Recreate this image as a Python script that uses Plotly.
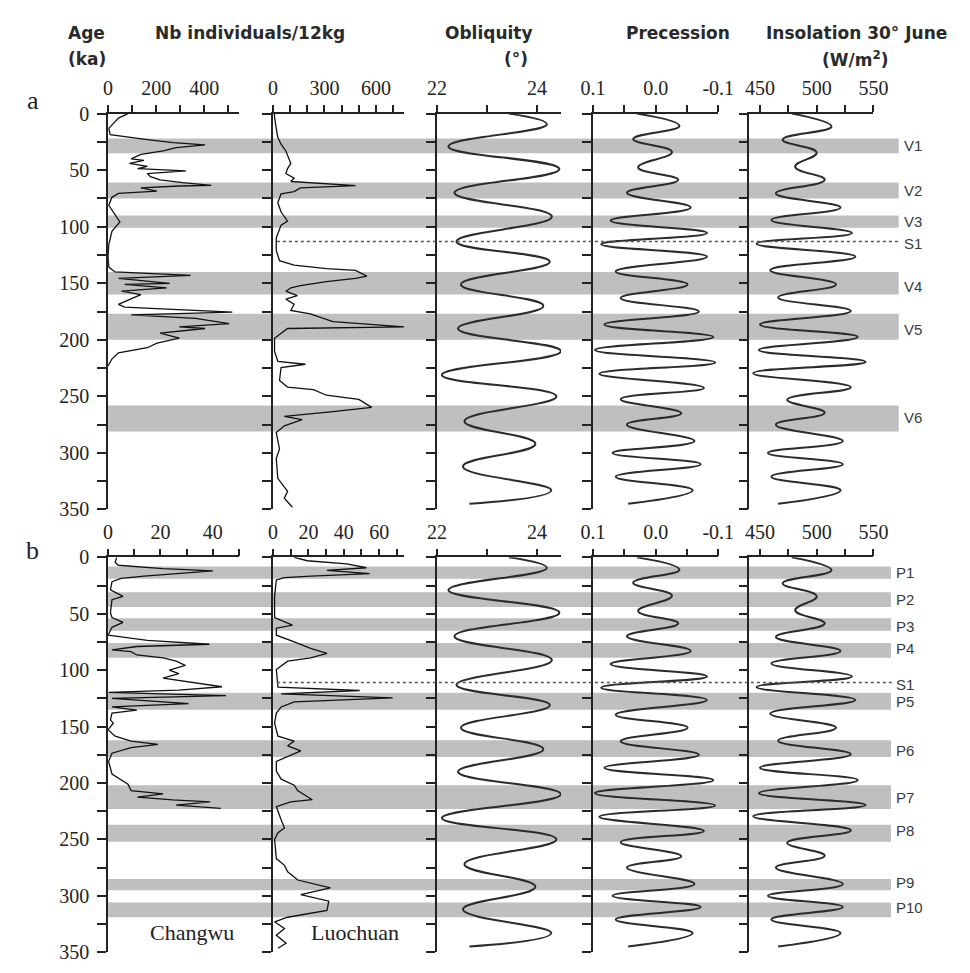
import plotly.graph_objects as go

# ---------------- data ----------------
age_ticks = [0, 25, 50, 75, 100, 125, 150, 175, 200, 225, 250, 275, 300, 325, 350]
age_labels = ["0", "", "50", "", "100", "", "150", "", "200", "", "250", "", "300", "", "350"]

# Panel a: Changwu (Nb individuals/12kg)
cw_a_age = [0, 4, 13, 18.6, 23, 25.7, 27.7, 30, 33, 36, 40, 41.4, 44, 46.6, 48.6, 50.6, 53, 55.7, 58.6, 61,
            63.4, 64, 65.7, 68.6, 70.6, 74, 81, 87, 95.7, 104, 115.7, 127, 135.7, 140, 143, 145.7, 150, 151,
            154, 157, 160, 168.6, 171, 175.5, 178, 181, 185.6, 188.5, 190, 194, 198.6, 203, 207, 211.5, 217, 223]
cw_a_val = [83, 43, 3, 9, 163, 270, 403, 283, 229, 136, 96, 149, 89, 163, 123, 323, 163, 176, 216, 309,
            429, 296, 136, 203, 43, 16, 3, 23, 49, 16, 3, 0, 3, 29, 343, 43, 256, 69,
            243, 56, 136, 43, 69, 516, 96, 363, 503, 296, 403, 216, 296, 203, 163, 43, 16, 0]

# Panel a: Luochuan
lc_a_age = [0, 3, 13, 21, 27, 33, 44, 48.6, 53, 57, 60, 63.7, 65.7, 69, 71, 78.6, 87, 95, 98.6, 110, 121,
            130, 134, 137, 138.6, 143.7, 145.7, 148.6, 152, 154, 157, 161, 164, 168.6, 174, 177, 184, 188.5,
            190, 194, 198.6, 210, 219, 221.6, 224.5, 236, 241.8, 244, 249, 252.7, 259.7, 263.4, 267.7, 270.6,
            276, 282, 296.5, 305, 322.5, 334, 340, 348]
lc_a_val = [9, 9, 19, 28, 47, 75, 104, 85, 75, 123, 104, 481, 160, 123, 47, 28, 47, 85, 47, 19, 19,
            38, 123, 311, 481, 547, 481, 311, 160, 104, 75, 142, 75, 123, 104, 217, 349, 764,
            85, 47, 9, 9, 28, 189, 47, 38, 85, 236, 311, 500, 575, 349, 66, 170,
            66, 19, 38, 19, 28, 85, 66, 113]

# Panel b: Changwu
cw_b_age = [0, 4.3, 7, 10, 12, 14.4, 16.7, 18.7, 21.6, 28.8, 34.6, 37.5, 49, 53.3, 57.6, 62, 69, 73.5, 77, 79,
            82, 83.6, 86.5, 89, 92, 95.7, 100, 103, 107, 114.7, 117.6, 119.6, 122.5, 125, 129.7, 132.6, 135.4,
            138, 144, 147, 152.7, 158.5, 162.8, 165.7, 168.6, 173.6, 181, 192, 201, 206.7, 209.6, 212.5, 215,
            216.8, 219.7, 222.5]
cw_b_val = [3.3, 2.7, 3.9, 21, 40, 26, 13.7, 5, 1.5, 0.9, 5.7, 1.5, 0.9, 1.5, 5.7, 1.5, 0, 15, 38.7, 11,
            1.5, 8.8, 11, 21, 26, 29.5, 23.4, 27, 21, 43.5, 27, 0.2, 45, 1.5, 30.7, 1.5, 11,
            1.5, 0.9, 2, 0, 2.7, 8.8, 19, 8.8, 1.5, 0.2, 1.5, 7.6, 8.8, 21, 11.2, 24.6,
            39, 26, 43]

# Panel b: Luochuan
lc_b_age = [0, 3, 5.8, 9.2, 11.5, 14.4, 16.7, 17.9, 20, 34.6, 53.3, 56, 60, 62.8, 69, 75, 80.7, 85, 89, 92,
            95, 99.4, 115, 118, 121, 124.5, 128, 132.6, 138, 147, 158.5, 162.8, 167, 171.5, 180.8, 189.4,
            196.6, 202, 206.7, 214.8, 216.8, 221, 232.6, 240, 244, 250, 267, 273, 278.7, 286, 293, 299,
            304.7, 313, 319, 323, 329, 335, 342, 346.5]
lc_b_val = [12, 19.4, 41.7, 52.8, 30.5, 54.6, 21.3, 6.5, 1.9, 0.9, 0.9, 4.6, 11, 1.9, 1.9, 12, 21.3, 30.5, 21.3, 8.3,
            5.6, 1.9, 2.8, 49, 4.6, 67.6, 12, 4.6, 1.9, 0.9, 2.8, 12, 8.3, 15.7, 1.9, 1.9,
            4.6, 12, 13.9, 22.2, 10, 1.9, 4.6, 6.5, 2.8, 0.9, 1.9, 6.5, 8.3, 14, 32.4, 15.7,
            31.5, 30.5, 8.3, 0.9, 6.5, 1.9, 7.4, 2.8]

# Obliquity (deg) turning points
obl_age = [0, 9.5, 29, 49, 70, 91, 113, 131, 151, 170, 190, 210, 231, 250, 272, 292, 312, 333, 345]
obl_val = [23.44, 24.2, 22.23, 24.45, 22.35, 24.3, 22.39, 24.26, 22.48, 24.13, 22.42, 24.48, 22.1, 24.39,
           22.55, 23.97, 22.52, 24.29, 22.65]

# Precession index turning points
pre_age = [0, 11, 22.5, 34, 47.5, 58.5, 70, 83, 94.5, 105.5, 115.5, 126.5, 139.5, 151, 163, 175, 186.5, 197.5,
           209, 220, 230, 242.5, 252.5, 265, 275, 289.5, 300, 310, 321, 333, 345]
pre_val = [0.03, -0.038, 0.036, -0.026, 0.028, -0.036, 0.046, -0.056, 0.072, -0.082, 0.087, -0.082, 0.064,
           -0.051, 0.056, -0.069, 0.082, -0.092, 0.097, -0.095, 0.090, -0.077, 0.056, -0.041, 0.046, -0.062,
           0.069, -0.072, 0.064, -0.059, 0.044]

# Insolation 30N June (W/m2) turning points
ins_age = [0, 11.5, 23, 34.5, 47, 58.5, 70.5, 83, 94, 105.5, 115, 126.5, 138.5, 151, 162.5, 174.5, 186.5,
           197.5, 209, 219.5, 229.5, 242, 253, 264.5, 275, 289.5, 300, 310, 321, 333, 345]
ins_val = [478, 513, 470, 500, 481, 507, 464, 521, 460, 531, 447, 534, 459, 517, 466, 530, 450, 536, 449, 543,
           444, 530, 474, 507, 464, 523, 457, 523, 460, 521, 466]

# Shaded intervals (ka)
bands_a = [(22, 35), (61, 75), (90, 101), (140, 160), (177, 200), (258, 281)]
labels_a = ["V1", "V2", "V3", "V4", "V5", "V6"]
label_pos_a = [28, 68, 95, 153, 191, 269]
bands_b = [(8, 19), (31, 44), (54, 65), (76, 89), (120, 135), (162, 177), (202, 223), (237, 252),
           (285, 295), (306, 319)]
labels_b = ["P1", "P2", "P3", "P4", "P5", "P6", "P7", "P8", "P9", "P10"]
label_pos_b = [13, 37, 61, 81, 127.5, 171, 213, 242, 288, 310]
s1_a = 113
s1_b = 111

# ---------------- layout helpers ----------------
W, H = 970, 973


def px(x):
    return x / W


def py(y):
    return 1 - y / H


col_px = [(98, 233), (268, 403), (437, 565), (598, 727), (759, 887)]
panel_px = [(105, 510), (559, 963)]

xranges = [
    [[0, 544], [0, 763], [22, 24.485], [0.1, -0.1], [440.6, 550]],
    [[0, 50], [0, 74], [22, 24.485], [0.1, -0.1], [440.6, 550]],
]
xtickvals = [
    [[0, 100, 200, 300, 400, 500], [0, 100, 200, 300, 400, 500, 600, 700], [22, 23, 24],
     [0.1, 0.05, 0, -0.05, -0.1], [450, 475, 500, 525, 550]],
    [[0, 10, 20, 30, 40, 50], [0, 10, 20, 30, 40, 50, 60, 70], [22, 23, 24],
     [0.1, 0.05, 0, -0.05, -0.1], [450, 475, 500, 525, 550]],
]
xticktext = [
    [["0", "", "200", "", "400", ""], ["0", "", "", "300", "", "", "600", ""], ["22", "", "24"],
     ["0.1", "", "0.0", "", "-0.1"], ["450", "", "500", "", "550"]],
    [["0", "", "20", "", "40", ""], ["0", "", "20", "", "40", "", "60", ""], ["22", "", "24"],
     ["0.1", "", "0.0", "", "-0.1"], ["450", "", "500", "", "550"]],
]

series = [
    [(cw_a_age, cw_a_val, "linear"), (lc_a_age, lc_a_val, "linear"), (obl_age, obl_val, "spline"),
     (pre_age, pre_val, "spline"), (ins_age, ins_val, "spline")],
    [(cw_b_age, cw_b_val, "linear"), (lc_b_age, lc_b_val, "linear"), (obl_age, obl_val, "spline"),
     (pre_age, pre_val, "spline"), (ins_age, ins_val, "spline")],
]

fig = go.Figure()
layout = dict(
    width=W, height=H, margin=dict(l=0, r=0, t=0, b=0),
    paper_bgcolor="white", plot_bgcolor="rgba(0,0,0,0)", showlegend=False,
)

serif = "Liberation Serif"
ink = "#222222"
n = 0
for p in range(2):
    for c in range(5):
        n += 1
        sfx = "" if n == 1 else str(n)
        xs, ys, shape = series[p][c]
        astro = shape == "spline"
        fig.add_trace(go.Scatter(
            x=ys, y=xs, mode="lines", xaxis="x" + sfx, yaxis="y" + sfx,
            line=dict(color="#2b2b2b" if astro else "#111111", width=2.0 if astro else 1.3,
                      shape=shape, smoothing=1.3 if astro else None),
            hoverinfo="skip",
        ))
        layout["xaxis" + sfx] = dict(
            domain=[px(col_px[c][0]), px(col_px[c][1])], anchor="y" + sfx, side="top",
            range=xranges[p][c], tickvals=xtickvals[p][c], ticktext=xticktext[p][c],
            showline=True, linecolor=ink, linewidth=1.5, ticks="outside", ticklen=7, tickwidth=1.5,
            tickcolor=ink, showgrid=False, zeroline=False,
            tickfont=dict(family=serif, size=20, color=ink), ticklabelstandoff=2,
        )
        layout["yaxis" + sfx] = dict(
            domain=[py(panel_px[p][1]), py(panel_px[p][0])], anchor="x" + sfx,
            range=[350, 0], tickvals=age_ticks, ticktext=age_labels, showticklabels=(c == 0),
            showline=True, linecolor=ink, linewidth=1.5, ticks="outside", ticklen=9, tickwidth=1.5,
            tickcolor=ink, showgrid=False, zeroline=False,
            tickfont=dict(family=serif, size=20, color=ink), ticklabelstandoff=4,
        )

shapes = []
annotations = []
band_color = "#bfbfbf"
lab_font = dict(family="Liberation Sans", size=15, color="#3a3a3a")
for (bands, yref, x1, labels, lpos, s1) in [
    (bands_a, "y", 913, labels_a, label_pos_a, s1_a),
    (bands_b, "y6", 905, labels_b, label_pos_b, s1_b),
]:
    for (b0, b1) in bands:
        shapes.append(dict(type="rect", xref="paper", yref=yref, x0=px(98), x1=px(x1), y0=b0, y1=b1,
                           fillcolor=band_color, line=dict(width=0), layer="below"))
    shapes.append(dict(type="line", xref="paper", yref=yref, x0=px(272), x1=px(x1 + 2), y0=s1, y1=s1,
                       line=dict(color="#555555", width=1.5, dash="dot"), layer="above"))
    for lab, pos in zip(labels, lpos):
        annotations.append(dict(xref="paper", yref=yref, x=px(x1 + 3), y=pos, text=lab, showarrow=False,
                                xanchor="left", yanchor="middle", font=lab_font))
    annotations.append(dict(xref="paper", yref=yref, x=px(x1 + 3), y=s1 + 1.5, text="S1", showarrow=False,
                            xanchor="left", yanchor="middle", font=lab_font))

hdr = dict(family="DejaVu Sans", size=17, color="#2a2a2a")
for (x, y, t) in [(76, 23, "<b>Age</b>"), (76, 49, "<b>(ka)</b>"), (244, 23, "<b>Nb individuals/12kg</b>"),
                  (491, 23, "<b>Obliquity</b>"), (519, 49, "<b>(°)</b>"), (685, 23, "<b>Precession</b>"),
                  (870, 23, "<b>Insolation 30° June</b>"), (868, 49, "<b>(W/m<sup>2</sup>)</b>")]:
    annotations.append(dict(xref="paper", yref="paper", x=px(x), y=py(y), text=t, showarrow=False,
                            xanchor="center", yanchor="middle", font=hdr))

for (x, y, t) in [(21, 92, "a"), (20, 552, "b")]:
    annotations.append(dict(xref="paper", yref="paper", x=px(x), y=py(y), text=t, showarrow=False,
                            xanchor="center", yanchor="middle",
                            font=dict(family=serif, size=26, color=ink)))

for (x, y, t) in [(185, 943, "Changwu"), (353, 943, "Luochuan")]:
    annotations.append(dict(xref="paper", yref="paper", x=px(x), y=py(y), text=t, showarrow=False,
                            xanchor="center", yanchor="middle",
                            font=dict(family=serif, size=22, color=ink)))

layout["shapes"] = shapes
layout["annotations"] = annotations
fig.update_layout(**layout)
fig.write_html("out.html")
